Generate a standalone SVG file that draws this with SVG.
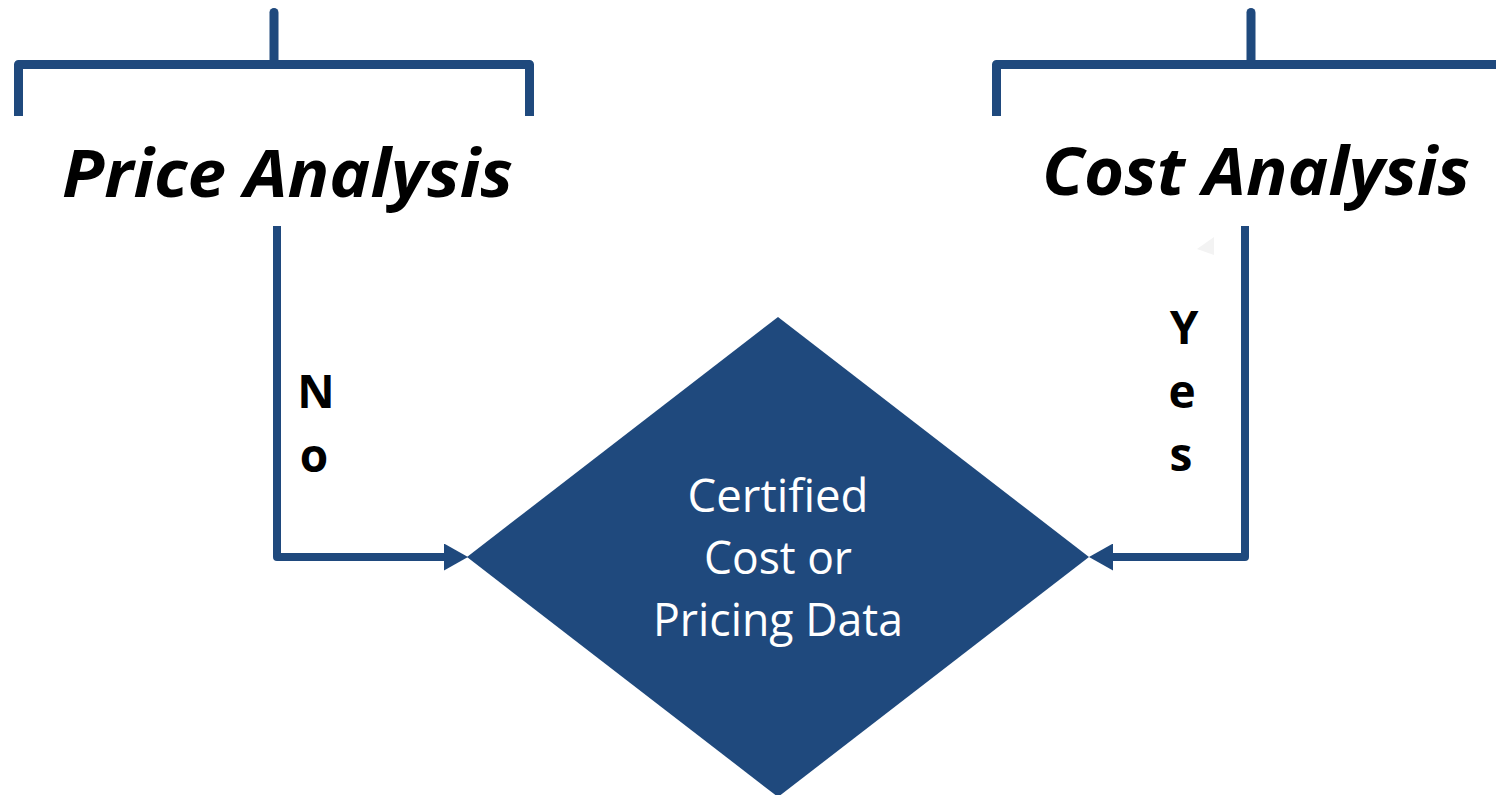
<svg xmlns="http://www.w3.org/2000/svg" width="1496" height="795" viewBox="0 0 1496 795">
  <style>
    .line { fill: none; stroke: #1f497d; stroke-linejoin: round; }
    .bracket { stroke-width: 9; }
    .conn { stroke-width: 8; }
    .heading { font-family: "Open Sans", "Liberation Sans", sans-serif; font-weight: bold; font-style: italic; font-size: 67px; fill: #000; }
    .branch { font-family: "Open Sans", "Liberation Sans", sans-serif; font-weight: bold; font-size: 46px; fill: #000; text-anchor: middle; }
    .decision-text { font-family: "Open Sans", "Liberation Sans", sans-serif; font-size: 45px; fill: #fff; text-anchor: middle; }
  </style>
  <defs>
    <marker id="arrow" viewBox="0 0 24 27" markerWidth="24" markerHeight="27" refX="0" refY="13.5" orient="auto" markerUnits="userSpaceOnUse">
      <path d="M0,0 L24,13.5 L0,27 Z" fill="#1f497d"/>
    </marker>
  </defs>
  <rect width="1496" height="795" fill="#fff"/>

  <!-- Price Analysis branch: bracket above heading -->
  <g id="price-analysis">
    <path class="line bracket" d="M274,12.5 V64.5" stroke-linecap="round"/>
    <path class="line bracket" d="M18.5,116 V64.5 H529.5 V116"/>
    <text class="heading" x="62" y="197" textLength="451" lengthAdjust="spacingAndGlyphs">Price Analysis</text>
  </g>

  <!-- Cost Analysis branch: bracket above heading -->
  <g id="cost-analysis">
    <path class="line bracket" d="M1251,12.5 V64.5" stroke-linecap="round"/>
    <path class="line bracket" d="M996.5,116 V64.5 H1500"/>
    <text class="heading" x="1042" y="195" textLength="428" lengthAdjust="spacingAndGlyphs">Cost Analysis</text>
    <polygon points="1214,237 1197,249 1214,255" fill="#f3f3f3"/>
  </g>

  <!-- Decision diamond -->
  <g id="decision">
    <polygon points="778,317 1089,557 778,797 467,557" fill="#1f497d"/>
    <text class="decision-text" x="778" y="512" textLength="181" lengthAdjust="spacingAndGlyphs">Certified</text>
    <text class="decision-text" x="778" y="574" textLength="148" lengthAdjust="spacingAndGlyphs">Cost or</text>
    <text class="decision-text" x="778" y="636" textLength="250" lengthAdjust="spacingAndGlyphs">Pricing Data</text>
  </g>

  <!-- Connectors from headings into the diamond -->
  <g id="connectors">
    <path class="line conn" d="M277,226 V557 H444" marker-end="url(#arrow)"/>
    <path class="line conn" d="M1245,226 V557 H1113" marker-end="url(#arrow)"/>
  </g>

  <!-- Branch labels, stacked one letter per line -->
  <g id="label-no">
    <text class="branch" x="316" y="408">N</text>
    <text class="branch" x="314" y="472">o</text>
  </g>
  <g id="label-yes">
    <text class="branch" x="1184" y="344">Y</text>
    <text class="branch" x="1182" y="408">e</text>
    <text class="branch" x="1181" y="471">s</text>
  </g>
</svg>
